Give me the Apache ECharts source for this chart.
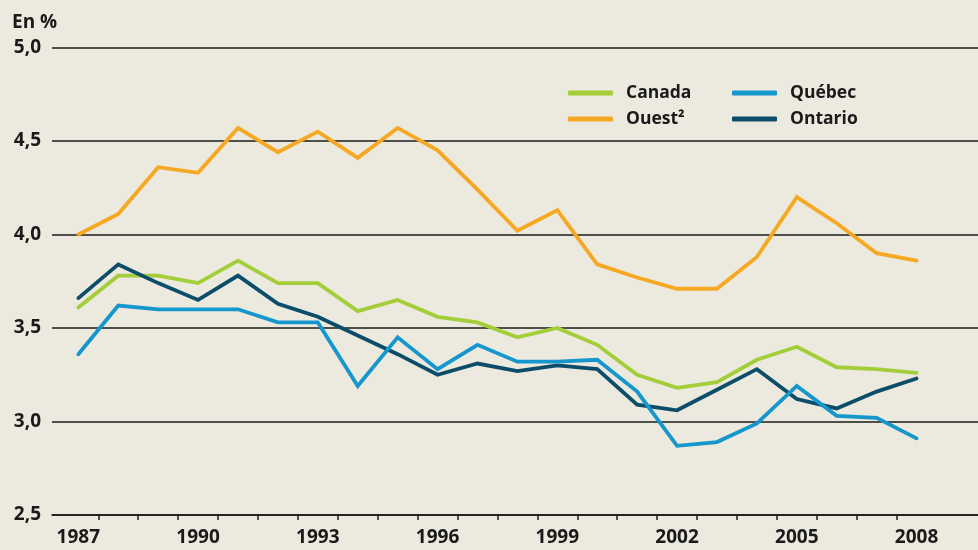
<!DOCTYPE html>
<html>
<head>
<meta charset="utf-8">
<script src="https://cdn.jsdelivr.net/npm/echarts@6/dist/echarts.min.js"></script>
<style>
    html, body { margin: 0; padding: 0; background: #ece9de; }
    #chart { width: 978px; height: 550px; }
</style>
</head>
<body>
<div id="chart"></div>
<script>
// années et valeurs (en %)
var years = [1987, 1988, 1989, 1990, 1991, 1992, 1993, 1994, 1995, 1996, 1997,
    1998, 1999, 2000, 2001, 2002, 2003, 2004, 2005, 2006, 2007, 2008];
var canada = [3.61, 3.78, 3.78, 3.74, 3.86, 3.74, 3.74, 3.59, 3.65, 3.56, 3.53,
    3.45, 3.50, 3.41, 3.25, 3.18, 3.21, 3.33, 3.40, 3.29, 3.28, 3.26];
var ouest = [4.00, 4.11, 4.36, 4.33, 4.57, 4.44, 4.55, 4.41, 4.57, 4.45, 4.24,
    4.02, 4.13, 3.84, 3.77, 3.71, 3.71, 3.88, 4.20, 4.06, 3.90, 3.86];
var quebec = [3.36, 3.62, 3.60, 3.60, 3.60, 3.53, 3.53, 3.19, 3.45, 3.28, 3.41,
    3.32, 3.32, 3.33, 3.16, 2.87, 2.89, 2.99, 3.19, 3.03, 3.02, 2.91];
var ontario = [3.66, 3.84, 3.74, 3.65, 3.78, 3.63, 3.56, 3.46, 3.36, 3.25, 3.31,
    3.27, 3.30, 3.28, 3.09, 3.06, 3.17, 3.28, 3.12, 3.07, 3.16, 3.23];
var labelYears = [1987, 1990, 1993, 1996, 1999, 2002, 2005, 2008];
var tickYears = [1987.5, 1988.5, 1989.5, 1990.5, 1991.5, 1992.5, 1993.5, 1994.5,
    1995.5, 1996.5, 1997.5, 1998.5, 1999.5, 2000.5, 2001.5, 2002.5, 2003.5,
    2004.5, 2005.5, 2006.5, 2007.5];

var FONT = '"Open Sans", "Noto Sans", sans-serif';
var INK = '#1a1a1a';

function pairs(values) {
    return years.map(function (y, i) {
        return [y, values[i]];
    });
}

function makeLine(name, values, color) {
    return {
        name: name,
        type: 'line',
        data: pairs(values),
        symbol: 'none',
        color: color,
        lineStyle: { width: 3.8, color: color, cap: 'round', join: 'miter' },
        emphasis: { disabled: true }
    };
}

var legendText = {
    fontFamily: FONT,
    fontWeight: 'bold',
    fontSize: 17.5,
    color: INK,
    lineHeight: 20,
    padding: [0, 0, 0, 8]
};

var chart = echarts.init(document.getElementById('chart'));
chart.setOption({
    backgroundColor: '#ece9de',
    animation: false,
    title: {
        text: 'En %',
        left: 7,
        top: 8,
        textStyle: { fontFamily: FONT, fontWeight: 'bold', fontSize: 19, color: INK }
    },
    legend: [
        {
            data: ['Canada', 'Ouest²'],
            orient: 'vertical',
            left: 563,
            top: 78,
            itemWidth: 45,
            itemHeight: 5,
            itemGap: 6,
            icon: 'roundRect',
            selectedMode: false,
            textStyle: legendText
        },
        {
            data: ['Québec', 'Ontario'],
            orient: 'vertical',
            left: 727,
            top: 78,
            itemWidth: 45,
            itemHeight: 5,
            itemGap: 6,
            icon: 'roundRect',
            selectedMode: false,
            textStyle: legendText
        }
    ],
    grid: {
        left: 52,
        right: 0,
        top: 47.5,
        bottom: 35,
        containLabel: false
    },
    xAxis: {
        type: 'value',
        min: 1986.34,
        max: 2009.54,
        splitLine: { show: false },
        axisLine: { show: true, lineStyle: { color: INK, width: 1.5 } },
        axisTick: {
            show: true,
            customValues: tickYears,
            length: 5,
            inside: false,
            lineStyle: { color: INK, width: 1.5 }
        },
        axisLabel: {
            customValues: labelYears,
            formatter: function (v) { return String(v); },
            margin: 13,
            fontFamily: FONT,
            fontWeight: 'bold',
            fontSize: 19,
            color: INK
        }
    },
    yAxis: {
        type: 'value',
        min: 2.5,
        max: 5.0,
        interval: 0.5,
        axisLine: { show: false },
        axisTick: { show: false },
        splitLine: { show: true, lineStyle: { color: INK, width: 1.5 } },
        axisLabel: {
            margin: 11,
            formatter: function (v) { return v.toFixed(1).replace('.', ','); },
            fontFamily: FONT,
            fontWeight: 'bold',
            fontSize: 19,
            color: INK
        }
    },
    series: [
        makeLine('Ouest²', ouest, '#f7a823'),
        makeLine('Canada', canada, '#a4ce39'),
        makeLine('Ontario', ontario, '#0c4e69'),
        makeLine('Québec', quebec, '#1596cc')
    ]
});
</script>
</body>
</html>
